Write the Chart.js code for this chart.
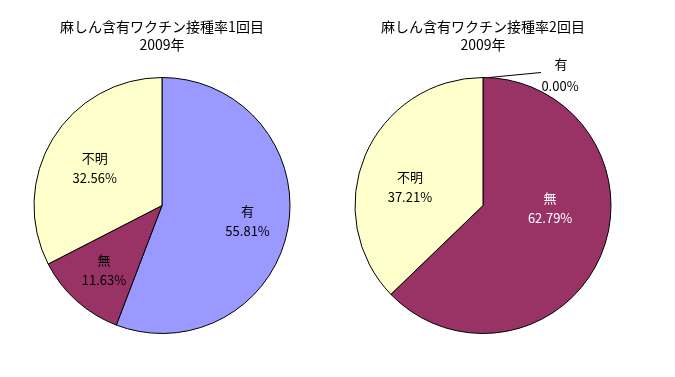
<!DOCTYPE html>
<html>
<head>
<meta charset="utf-8">
<script src="https://cdn.jsdelivr.net/npm/chart.js@4.4.0/dist/chart.umd.min.js"></script>
<style>
    body { margin: 0; background: #fff; }
    #wrap { position: relative; width: 675px; height: 377px; }
    canvas { position: absolute; top: 0; }
</style>
</head>
<body>
<div id="wrap">
    <canvas id="pie1" width="324" height="377" style="left:0px"></canvas>
    <canvas id="pie2" width="324" height="377" style="left:321px"></canvas>
</div>
<script>
// Categories and values (percent)
const categories = ['有', '無', '不明'];
const dose1Values = [55.81, 11.63, 32.56];
const dose2Values = [0.00, 62.79, 37.21];
const titles1 = ['麻しん含有ワクチン接種率1回目', '2009年'];
const titles2 = ['麻しん含有ワクチン接種率2回目', '2009年'];
const sliceColors = ['#9999FF', '#993366', '#FFFFCC'];

const FONT = '"Noto Sans CJK JP", "Noto Sans", sans-serif';

// Draws the two-line title and the category/percent labels on each slice
const pieLabels = {
    id: 'pieLabels',
    afterDraw(chart, args, opts) {
        const ctx = chart.ctx;
        const meta = chart.getDatasetMeta(0);
        const values = chart.data.datasets[0].data;
        const nudge = opts.nudge || [];
        const colors = opts.colors || [];
        ctx.save();
        ctx.fillStyle = '#000';
        ctx.textAlign = 'center';
        ctx.textBaseline = 'middle';

        // title
        ctx.font = '14px ' + FONT;
        const cx = (chart.chartArea.left + chart.chartArea.right) / 2;
        opts.title.forEach((t, i) => ctx.fillText(t, cx, 27 + i * 18));

        ctx.font = '13px ' + FONT;
        meta.data.forEach((arc, i) => {
            const mid = (arc.startAngle + arc.endAngle) / 2;
            const label = chart.data.labels[i];
            const pct = values[i].toFixed(2) + '%';
            ctx.fillStyle = colors[i] || '#000';
            if (values[i] === 0) {
                // zero slice: leader line out to the right
                const x0 = arc.x + Math.cos(mid) * arc.outerRadius;
                const y0 = arc.y + Math.sin(mid) * arc.outerRadius;
                ctx.strokeStyle = '#000';
                ctx.lineWidth = 1;
                ctx.beginPath();
                ctx.moveTo(x0 + 6, y0);
                ctx.lineTo(x0 + 58, y0 - 5);
                ctx.stroke();
                ctx.fillText(label, x0 + 78, y0 - 13);
                ctx.fillText(pct, x0 + 77, y0 + 9);
                return;
            }
            const r = arc.outerRadius * 0.68;
            const [dx, dy] = nudge[i] || [0, 0];
            const x = arc.x + Math.cos(mid) * r + dx;
            const y = arc.y + Math.sin(mid) * r + dy;
            ctx.fillText(label, x, y - 10);
            ctx.fillText(pct, x, y + 10);
        });
        ctx.restore();
    }
};

function makePie(id, values, title, nudge, colors) {
    return new Chart(document.getElementById(id), {
        type: 'pie',
        data: {
            labels: categories,
            datasets: [{
                data: values,
                backgroundColor: sliceColors,
                borderColor: '#000',
                borderWidth: 1
            }]
        },
        options: {
            responsive: false,
            animation: false,
            layout: { padding: { top: 77, bottom: 43, left: 0, right: 0 } },
            plugins: {
                legend: { display: false },
                tooltip: { enabled: false },
                title: { display: false },
                pieLabels: { title: title, nudge: nudge, colors: colors }
            }
        },
        plugins: [pieLabels]
    });
}

makePie('pie1', dose1Values, titles1, [[0, 0], [0, 0], [7, 8]], ['#000', '#000', '#000']);
makePie('pie2', dose2Values, titles2, [[0, 0], [-13, -31], [7, 16]], ['#000', '#fff', '#000']);
</script>
</body>
</html>
